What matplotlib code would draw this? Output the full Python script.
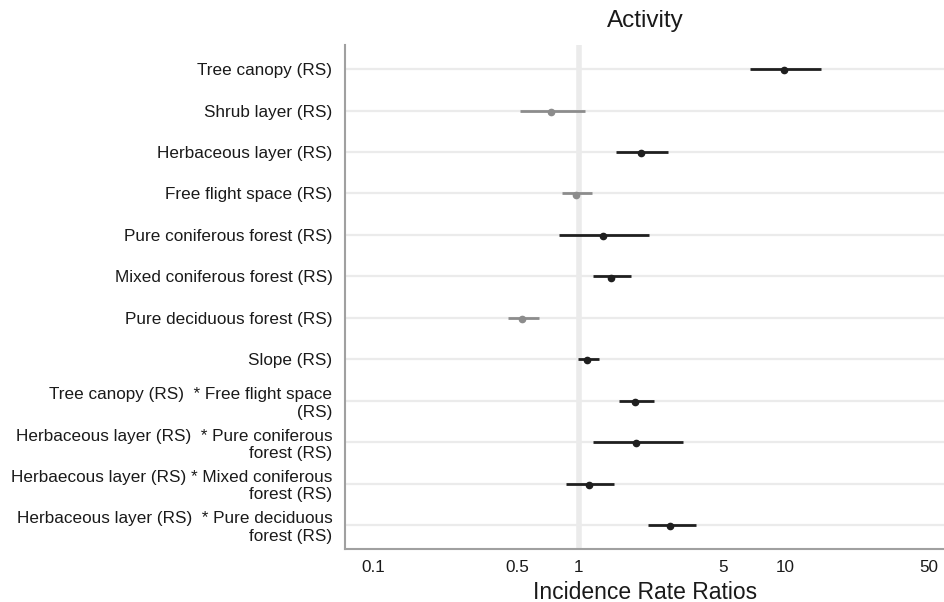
import numpy as np
import matplotlib.pyplot as plt

plt.rcParams['font.family'] = ['Liberation Sans', 'DejaVu Sans']

# ---------------------------------------------------------------
# data
labels = ["Tree canopy (RS)",
          "Shrub layer (RS)",
          "Herbaceous layer (RS)",
          "Free flight space (RS)",
          "Pure coniferous forest (RS)",
          "Mixed coniferous forest (RS)",
          "Pure deciduous forest (RS)",
          "Slope (RS)",
          "Tree canopy (RS)  * Free flight space\n(RS)",
          "Herbaceous layer (RS)  * Pure coniferous\nforest (RS)",
          "Herbaecous layer (RS) * Mixed coniferous\nforest (RS)",
          "Herbaceous layer (RS)  * Pure deciduous\nforest (RS)"]
irr = [9.9, 0.73, 2.0, 0.97, 1.31, 1.43, 0.53, 1.09, 1.87, 1.89, 1.12, 2.77]
ci_low = [6.76, 0.52, 1.51, 0.83, 0.80, 1.17, 0.45, 0.99, 1.56, 1.17, 0.87, 2.16]
ci_high = [14.96, 1.07, 2.70, 1.16, 2.19, 1.79, 0.64, 1.25, 2.31, 3.20, 1.48, 3.70]
signif = [True, False, True, False, True, True, False, True, True, True, True, True]

xticks = [0.1, 0.5, 1, 5, 10, 50]
xticklabels = ["0.1", "0.5", "1", "5", "10", "50"]

# ---------------------------------------------------------------
fig = plt.figure(figsize=(9.45, 6.02), dpi=100)
ax = fig.add_axes([0.365, 0.088, 0.635, 0.837])

n = len(labels)
ypos = np.arange(n, 0, -1)

# grid lines
for y in ypos:
    ax.axhline(y, color="#ebebeb", linewidth=1.6, zorder=0)
ax.axvline(1, color="#ebebeb", linewidth=4, zorder=0)

for i in range(n):
    col = "#1f1f1f" if signif[i] else "#8c8c8c"
    ax.plot([ci_low[i], ci_high[i]], [ypos[i], ypos[i]], color=col,
            linewidth=2, solid_capstyle="butt", zorder=2)
    ax.plot(irr[i], ypos[i] - 0.03, "o", color=col, markersize=4.5, zorder=3)

ax.set_xscale("log")
ax.set_xlim(0.073, 60)
ax.set_ylim(0.42, n + 0.58)
ax.set_xticks(xticks)
ax.set_xticklabels(xticklabels)
ax.minorticks_off()
ax.set_yticks(ypos)
ax.set_yticklabels(labels, linespacing=1.2)
ax.tick_params(axis="both", length=0, labelsize=12.3, colors="#1a1a1a", pad=8)
ax.tick_params(axis="y", pad=9)

for s in ["top", "right"]:
    ax.spines[s].set_visible(False)
for s in ["left", "bottom"]:
    ax.spines[s].set_color("#a0a0a0")
    ax.spines[s].set_linewidth(1.5)

ax.set_title("Activity", fontsize=17.5, color="#1a1a1a", pad=13)
ax.set_xlabel("Incidence Rate Ratios", fontsize=16.5, color="#1a1a1a", labelpad=4)

fig.savefig("out.png", dpi=100)
